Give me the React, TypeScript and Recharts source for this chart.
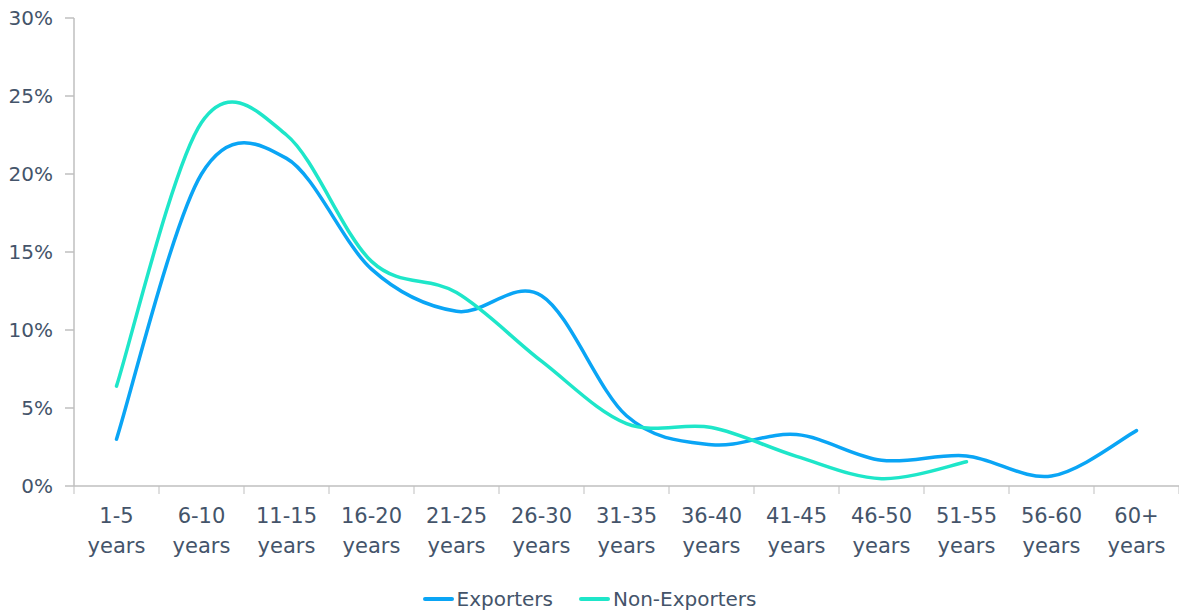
import React from 'react';
import { LineChart, Line, XAxis, YAxis, Legend } from 'recharts';

const categories = [
  '1-5 years',
  '6-10 years',
  '11-15 years',
  '16-20 years',
  '21-25 years',
  '26-30 years',
  '31-35 years',
  '36-40 years',
  '41-45 years',
  '46-50 years',
  '51-55 years',
  '56-60 years',
  '60+ years',
];
const exporters = [3.0, 20.0, 21.0, 13.9, 11.2, 12.2, 4.5, 2.65, 3.3, 1.65, 1.93, 0.64, 3.55];
const nonExporters = [6.4, 23.3, 22.5, 14.4, 12.4, 8.0, 4.0, 3.75, 1.9, 0.47, 1.55, null, null];
const yTicks = [0, 5, 10, 15, 20, 25, 30];

const data = categories.map((band, i) => ({
  band,
  exporters: exporters[i],
  nonExporters: nonExporters[i],
}));

const W = 1179;
const H = 611;
const AXIS_LEFT = 74;
const BAND = (W - AXIS_LEFT) / categories.length;
const FONT = '"DejaVu Sans", sans-serif';
const TEXT = '#44546a';
const AXIS = '#bfbfbf';
const BLUE = '#0aa5f5';
const TEAL = '#1ee6c9';

// Excel-style smoothed line: Catmull-Rom segments through every point
function excelSmooth(context: any) {
  let pts: number[][] = [];
  return {
    areaStart() {},
    areaEnd() {},
    lineStart() {
      pts = [];
    },
    lineEnd() {
      if (!pts.length) return;
      context.moveTo(pts[0][0], pts[0][1]);
      for (let i = 0; i < pts.length - 1; i++) {
        const p0 = pts[i - 1] || pts[i];
        const p1 = pts[i];
        const p2 = pts[i + 1];
        const p3 = pts[i + 2] || p2;
        context.bezierCurveTo(
          p1[0] + (p2[0] - p0[0]) / 6,
          p1[1] + (p2[1] - p0[1]) / 6,
          p2[0] - (p3[0] - p1[0]) / 6,
          p2[1] - (p3[1] - p1[1]) / 6,
          p2[0],
          p2[1],
        );
      }
    },
    point(x: number, y: number) {
      pts.push([+x, +y]);
    },
  };
}

const XTick = ({ x, y, payload, index }: any) => {
  const label = String(payload.value);
  const cut = label.indexOf(' ');
  const top = label.slice(0, cut);
  const bottom = label.slice(cut + 1);
  const axisY = y - 8;
  return (
    <g>
      <line x1={x - BAND / 2} x2={x - BAND / 2} y1={axisY} y2={axisY + 8} stroke={AXIS} />
      {index === categories.length - 1 && (
        <line x1={x + BAND / 2} x2={x + BAND / 2} y1={axisY} y2={axisY + 8} stroke={AXIS} />
      )}
      <text x={x} y={axisY} textAnchor="middle" fill={TEXT} fontSize={21} fontFamily={FONT}>
        <tspan x={x} dy={37}>{top}</tspan>
        <tspan x={x} dy={30}>{bottom}</tspan>
      </text>
    </g>
  );
};

const LegendContent = ({ payload }: any) => (
  <div
    style={{
      display: 'flex',
      justifyContent: 'center',
      alignItems: 'center',
      height: 36,
      paddingTop: 12,
      boxSizing: 'border-box',
      fontFamily: FONT,
      fontSize: 20,
      color: TEXT,
    }}
  >
    {(payload || []).map((p: any, i: number) => (
      <div key={p.value} style={{ display: 'flex', alignItems: 'center', marginLeft: i ? 26 : 0 }}>
        <div style={{ width: 31, height: 4, borderRadius: 2, background: p.color, marginRight: 3 }} />
        <span>{p.value}</span>
      </div>
    ))}
  </div>
);

export default function App() {
  return (
    <div style={{ position: 'absolute', left: 0, top: 0, width: W, height: H, background: '#fff' }}>
      <LineChart width={W} height={H} data={data} margin={{ top: 18, right: 0, left: 0, bottom: 0 }}>
        <XAxis
          dataKey="band"
          padding={{ left: BAND / 2, right: BAND / 2 }}
          interval={0}
          height={89}
          tickSize={8}
          tickMargin={0}
          tickLine={false}
          axisLine={{ stroke: AXIS, strokeWidth: 1.5 }}
          tick={<XTick />}
        />
        <YAxis
          width={AXIS_LEFT}
          domain={[0, 30]}
          ticks={yTicks}
          interval={0}
          tickFormatter={(v: number) => `${v}%`}
          tickSize={9}
          tickMargin={12}
          axisLine={{ stroke: AXIS, strokeWidth: 1.5 }}
          tickLine={{ stroke: AXIS, strokeWidth: 1.5 }}
          tick={{ fill: TEXT, fontSize: 20, fontFamily: FONT }}
        />
        <Legend verticalAlign="bottom" wrapperStyle={{ height: 36 }} content={<LegendContent />} />
        <Line
          type={excelSmooth as any}
          dataKey="exporters"
          name="Exporters"
          stroke={BLUE}
          strokeWidth={3.5}
          strokeLinecap="round"
          dot={false}
          activeDot={false}
          isAnimationActive={false}
        />
        <Line
          type={excelSmooth as any}
          dataKey="nonExporters"
          name="Non-Exporters"
          stroke={TEAL}
          strokeWidth={3.5}
          strokeLinecap="round"
          dot={false}
          activeDot={false}
          isAnimationActive={false}
        />
      </LineChart>
    </div>
  );
}
